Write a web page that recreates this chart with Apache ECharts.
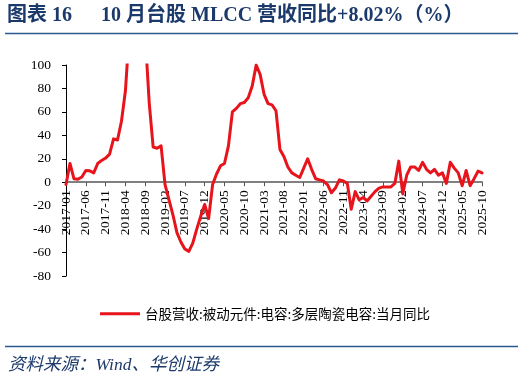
<!DOCTYPE html>
<html>
<head>
<meta charset="utf-8">
<script src="https://cdn.jsdelivr.net/npm/echarts@6/dist/echarts.min.js"></script>
<style>
html,body{margin:0;padding:0;background:#fff;}
#c{width:524px;height:382px;}
</style>
</head>
<body>
<div id="c"></div>
<script>
// Categories: monthly, 2017-01 .. 2025-10
var categories = [
 '2017-01','2017-02','2017-03','2017-04','2017-05','2017-06','2017-07','2017-08','2017-09','2017-10','2017-11','2017-12',
 '2018-01','2018-02','2018-03','2018-04','2018-05','2018-06','2018-07','2018-08','2018-09','2018-10','2018-11','2018-12',
 '2019-01','2019-02','2019-03','2019-04','2019-05','2019-06','2019-07','2019-08','2019-09','2019-10','2019-11','2019-12',
 '2020-01','2020-02','2020-03','2020-04','2020-05','2020-06','2020-07','2020-08','2020-09','2020-10','2020-11','2020-12',
 '2021-01','2021-02','2021-03','2021-04','2021-05','2021-06','2021-07','2021-08','2021-09','2021-10','2021-11','2021-12',
 '2022-01','2022-02','2022-03','2022-04','2022-05','2022-06','2022-07','2022-08','2022-09','2022-10','2022-11','2022-12',
 '2023-01','2023-02','2023-03','2023-04','2023-05','2023-06','2023-07','2023-08','2023-09','2023-10','2023-11','2023-12',
 '2024-01','2024-02','2024-03','2024-04','2024-05','2024-06','2024-07','2024-08','2024-09','2024-10','2024-11','2024-12',
 '2025-01','2025-02','2025-03','2025-04','2025-05','2025-06','2025-07','2025-08','2025-09','2025-10'
];

// 台股营收:被动元件:电容:多层陶瓷电容:当月同比 (%)
var yoy2017 = [-2, 16, 3, 2.5, 4.5, 10, 9.7, 8, 16, 18.6, 20.6, 24];
var yoy2018 = [37, 36, 52, 78, 130, 170, 190, 170, 125, 68, 30, 29];
var yoy2019 = [31, -2, -15, -28, -43, -51, -57, -59, -52, -40, -29, -19];
var yoy2020 = [-31, -2, 7, 14, 16, 31, 60, 63, 67, 68, 72, 82];
var yoy2021 = [100, 92, 75, 67, 66, 61, 28, 22, 13, 8, 6, 4];
var yoy2022 = [12, 20, 11, 3, 2, 1, -2, -9, -5, 2, 1, -1];
var yoy2023 = [-23, -8, -15, -13, -16, -12, -8, -5, -4, -4, -4, -1];
var yoy2024 = [18, -10, 6, 13, 13, 10, 17, 11, 8, 11, 6, 8];
var yoy2025 = [-1, 17, 12, 8, -3, 10, -3, 3, 9.5, 8.02];

var seriesName = '台股营收:被动元件:电容:多层陶瓷电容:当月同比';
var yTicks = {min: -80, max: 100, interval: 20};

var values = [].concat(yoy2017, yoy2018, yoy2019, yoy2020, yoy2021, yoy2022, yoy2023, yoy2024, yoy2025);

var chart = echarts.init(document.getElementById('c'), null, {renderer: 'canvas'});
var serif = "'Liberation Serif', 'Times New Roman', 'Noto Sans CJK SC', serif";
var navy = '#1B3A6B';

var gridTop = 65, gridBottom = 106, H = 382;
var gridH = H - gridTop - gridBottom;
// distance from grid bottom edge up to the zero line (so the x axis sits on y = 0)
var zeroOffset = gridH * (0 - yTicks.min) / (yTicks.max - yTicks.min);

chart.setOption({
  animation: false,
  backgroundColor: '#ffffff',
  grid: {left: 66, right: 42, top: gridTop, bottom: gridBottom, containLabel: false},
  graphic: [
    {type: 'text', left: 7, top: 6, style: {text: '图表 16', font: "bold 20px 'Liberation Serif', 'Noto Sans CJK SC'", fill: navy}},
    {type: 'text', left: 101, top: 6, style: {text: '10 月台股 MLCC 营收同比+8.02%（%）', font: "bold 20px 'Liberation Serif', 'Noto Sans CJK SC'", fill: navy}},
    {type: 'line', shape: {x1: 5, y1: 33.5, x2: 518, y2: 33.5}, style: {stroke: '#2B5A8C', lineWidth: 1.5}},
    {type: 'line', shape: {x1: 5, y1: 346.5, x2: 518, y2: 346.5}, style: {stroke: '#2B5A8C', lineWidth: 1.5}},
    {type: 'text', left: 8, top: 357, style: {text: '资料来源：Wind、华创证券', font: "italic 17.5px 'Liberation Serif', 'Noto Sans CJK SC'", fill: navy}}
  ],
  legend: {
    left: 95, top: 302,
    icon: 'rect', itemWidth: 40, itemHeight: 3, itemGap: 10,
    textStyle: {fontFamily: "'Noto Sans CJK SC'", fontSize: 13.5, color: '#000'},
    data: [seriesName]
  },
  xAxis: {
    type: 'category',
    data: categories,
    boundaryGap: false,
    position: 'bottom',
    offset: -zeroOffset,
    axisLine: {onZero: false, lineStyle: {color: '#808080', width: 2}},
    axisTick: {show: true, interval: 4, length: 4, lineStyle: {color: '#555', width: 1}},
    axisLabel: {interval: 4, rotate: 90, margin: 8, fontFamily: serif, fontSize: 13.5, color: '#000'},
    splitLine: {show: false}
  },
  yAxis: {
    type: 'value',
    min: yTicks.min, max: yTicks.max, interval: yTicks.interval,
    axisLine: {show: true, lineStyle: {color: '#000', width: 1}},
    axisTick: {show: true, length: 4, lineStyle: {color: '#000'}},
    axisLabel: {margin: 15, fontFamily: serif, fontSize: 13.5, color: '#000'},
    splitLine: {show: false}
  },
  series: [{
    name: seriesName,
    type: 'line',
    data: values,
    showSymbol: false,
    symbol: 'none',
    clip: true,
    lineStyle: {color: '#E8141C', width: 3, join: 'round', cap: 'round'},
    itemStyle: {color: '#E8141C'}
  }]
});
</script>
</body>
</html>
